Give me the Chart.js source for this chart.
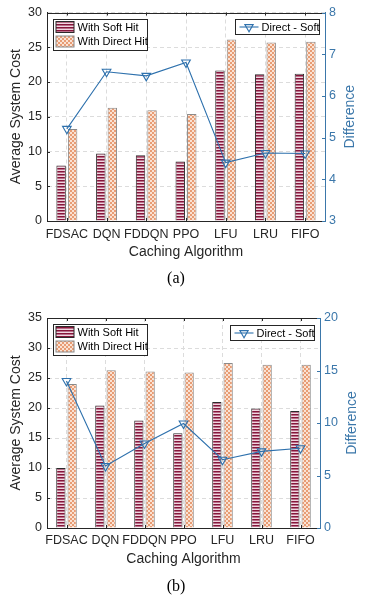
<!DOCTYPE html>
<html>
<head>
<meta charset="utf-8">
<script src="https://cdn.jsdelivr.net/npm/chart.js@4.4.1/dist/chart.umd.min.js"></script>
<style>
body { margin: 0; background: #fff; width: 367px; height: 597px; position: relative; overflow: hidden; }
canvas { position: absolute; left: 0; }
.cap { position: absolute; left: 0; width: 352px; text-align: center; font-family: "Liberation Serif", serif; font-size: 16px; font-weight: normal; line-height: 18px; color: #000; }
</style>
</head>
<body>
<canvas id="chartA" width="367" height="270" style="top:0px"></canvas>
<div class="cap" style="top:269px">(a)</div>
<canvas id="chartB" width="367" height="278" style="top:300px"></canvas>
<div class="cap" style="top:577px">(b)</div>
<script>
// Categories and series names
var algorithms = ['FDSAC', 'DQN', 'FDDQN', 'PPO', 'LFU', 'LRU', 'FIFO'];
var seriesNames = ['With Soft Hit', 'With Direct Hit', 'Direct - Soft'];

// (a)
var softA = [8.0, 9.7, 9.45, 8.55, 21.65, 21.1, 21.2];
var directA = [13.25, 16.3, 15.95, 15.4, 26.1, 25.7, 25.8];
var diffA = [5.21, 6.58, 6.48, 6.8, 4.4, 4.63, 4.62];
var leftTicksA = [0, 5, 10, 15, 20, 25, 30];
var rightTicksA = [3, 4, 5, 6, 7, 8];

// (b)
var softB = [10.0, 20.4, 17.9, 15.8, 21.0, 19.9, 19.5];
var directB = [24.0, 26.3, 26.1, 25.9, 27.5, 27.2, 27.2];
var diffB = [14.0, 5.9, 8.05, 9.95, 6.5, 7.3, 7.6];
var leftTicksB = [0, 5, 10, 15, 20, 25, 30, 35];
var rightTicksB = [0, 5, 10, 15, 20];

var FONT = '"Liberation Sans", Arial, sans-serif';
var TEXT = '#262626';
var BLUE_AXIS = '#3b77aa';
var BLUE_LINE = '#2e71ad';

// bar fill patterns
function stripePattern() {
	var c = document.createElement('canvas');
	c.width = 4; c.height = 3;
	var g = c.getContext('2d');
	g.fillStyle = '#f0d6e0';
	g.fillRect(0, 0, 4, 3);
	g.fillStyle = '#86163a';
	g.fillRect(0, 0, 4, 1);
	g.fillStyle = '#b86f8a';
	g.fillRect(0, 1, 4, 1);
	return g.createPattern(c, 'repeat');
}

function checkPattern() {
	var c = document.createElement('canvas');
	c.width = 4; c.height = 4;
	var g = c.getContext('2d');
	g.fillStyle = '#fae2d3';
	g.fillRect(0, 0, 4, 4);
	g.fillStyle = '#e89c74';
	g.fillRect(0, 0, 2, 2);
	g.fillRect(2, 2, 2, 2);
	return g.createPattern(c, 'repeat');
}

function downTriangle(ctx, x, y, r) {
	ctx.beginPath();
	ctx.moveTo(x, y + r);
	ctx.lineTo(x - r * 0.866, y - r / 2);
	ctx.lineTo(x + r * 0.866, y - r / 2);
	ctx.closePath();
	ctx.stroke();
}

// box on top, inward ticks, right title and the two legends
var frameAndLegends = {
	id: 'frameAndLegends',
	afterDraw: function(chart, args, opts) {
		var ctx = chart.ctx, ca = chart.chartArea;
		var sx = chart.scales.x, sy = chart.scales.y, sy1 = chart.scales.y1;
		var ds = chart.data.datasets;
		ctx.save();
		ctx.lineWidth = 1;
		ctx.strokeStyle = TEXT;
		ctx.beginPath();
		var top = Math.round(ca.top) + 0.5;
		ctx.moveTo(ca.left, top);
		ctx.lineTo(ca.right, top);
		sx.ticks.forEach(function(t, i) {
			var px = Math.round(sx.getPixelForTick(i)) + 0.5;
			ctx.moveTo(px, ca.bottom);
			ctx.lineTo(px, ca.bottom - 3);
			ctx.moveTo(px, ca.top);
			ctx.lineTo(px, ca.top + 3);
		});
		sy.ticks.forEach(function(t, i) {
			var py = Math.round(sy.getPixelForTick(i)) + 0.5;
			ctx.moveTo(ca.left, py);
			ctx.lineTo(ca.left + 3, py);
		});
		ctx.stroke();
		ctx.strokeStyle = BLUE_AXIS;
		ctx.beginPath();
		sy1.ticks.forEach(function(t, i) {
			var py = Math.round(sy1.getPixelForTick(i)) + 0.5;
			ctx.moveTo(ca.right, py);
			ctx.lineTo(ca.right - 3, py);
		});
		ctx.stroke();

		// right axis title, reading bottom to top
		ctx.save();
		ctx.translate(opts.rTitleX, (ca.top + ca.bottom) / 2);
		ctx.rotate(-Math.PI / 2);
		ctx.font = '14px ' + FONT;
		ctx.fillStyle = BLUE_AXIS;
		ctx.textAlign = 'center';
		ctx.textBaseline = 'middle';
		ctx.fillText(opts.rTitle, 0, 0);
		ctx.restore();

		// bar legend, top left
		var bx = Math.round(ca.left + 6) + 0.5, by = Math.round(ca.top + 6) + 0.5;
		var bw = 94, bh = 31;
		ctx.fillStyle = '#fff';
		ctx.fillRect(bx, by, bw, bh);
		ctx.strokeStyle = TEXT;
		ctx.strokeRect(bx, by, bw, bh);
		ctx.font = '11px ' + FONT;
		ctx.textBaseline = 'middle';
		ctx.textAlign = 'left';
		for (var i = 0; i < 2; i++) {
			var sy0 = by + 2 + i * 14.5;
			ctx.fillStyle = ds[i].backgroundColor;
			ctx.fillRect(bx + 2.5, sy0, 18, 11);
			ctx.strokeStyle = ds[i].borderColor;
			ctx.strokeRect(bx + 2.5, sy0, 18, 11);
			ctx.fillStyle = '#000';
			ctx.fillText(ds[i].label, bx + 24, sy0 + 6);
		}

		// line legend, top right
		var lw = 84, lh = 15;
		var lx = Math.round(ca.right - 6 - lw) + 0.5, ly = Math.round(ca.top + 6.5) + 0.5;
		ctx.fillStyle = '#fff';
		ctx.fillRect(lx, ly, lw, lh);
		ctx.strokeStyle = TEXT;
		ctx.strokeRect(lx, ly, lw, lh);
		var cy = ly + lh / 2;
		ctx.strokeStyle = ds[2].borderColor;
		ctx.lineWidth = 1.1;
		ctx.beginPath();
		ctx.moveTo(lx + 4, cy);
		ctx.lineTo(lx + 23, cy);
		ctx.stroke();
		downTriangle(ctx, lx + 13.5, cy, 4.8);
		ctx.fillStyle = '#000';
		ctx.fillText(ds[2].label, lx + 26, cy + 0.5);
		ctx.restore();
	}
};

function makeChart(id, soft, direct, diff, leftTicks, rightTicks, dims) {
	var ctx = document.getElementById(id).getContext('2d');
	return new Chart(ctx, {
		type: 'bar',
		data: {
			labels: algorithms,
			datasets: [{
				label: seriesNames[0],
				data: soft,
				yAxisID: 'y',
				backgroundColor: stripePattern(),
				borderColor: '#2b2b2b',
				borderWidth: 1,
				borderSkipped: 'start',
				order: 1
			}, {
				label: seriesNames[1],
				data: direct,
				yAxisID: 'y',
				backgroundColor: checkPattern(),
				borderColor: '#8a8a8a',
				borderWidth: 1,
				borderSkipped: 'start',
				order: 1
			}, {
				type: 'line',
				label: seriesNames[2],
				data: diff,
				yAxisID: 'y1',
				borderColor: BLUE_LINE,
				borderWidth: 1.1,
				pointStyle: 'triangle',
				pointRotation: 180,
				pointRadius: 5,
				pointBorderWidth: 1.1,
				pointBorderColor: BLUE_LINE,
				pointBackgroundColor: 'rgba(0,0,0,0)',
				fill: false,
				tension: 0,
				order: 0
			}]
		},
		options: {
			responsive: false,
			animation: false,
			categoryPercentage: 0.58,
			barPercentage: 0.82,
			layout: { padding: { top: dims.top, left: 0, right: 0, bottom: 0 } },
			plugins: {
				legend: { display: false },
				tooltip: { enabled: false },
				frameAndLegends: { rTitle: 'Difference', rTitleX: dims.rTitleX }
			},
			scales: {
				x: {
					offset: true,
					grid: { offset: false, color: '#dcdcdc', drawTicks: false },
					border: { color: TEXT, dash: [4, 3] },
					ticks: { color: TEXT, font: { family: FONT, size: 12.5 }, padding: dims.xTickPad, autoSkip: false, maxRotation: 0, minRotation: 0 },
					title: { display: true, text: 'Caching Algorithm', color: TEXT, font: { family: FONT, size: 14 }, padding: { top: 0, bottom: dims.xTitlePad } },
					afterFit: function(s) { s.height = dims.bottom; }
				},
				y: {
					position: 'left',
					min: leftTicks[0],
					max: leftTicks[leftTicks.length - 1],
					ticks: { stepSize: leftTicks[1] - leftTicks[0], color: TEXT, font: { family: FONT, size: 12.5 }, padding: 5 },
					grid: { color: '#dcdcdc', drawTicks: false },
					border: { color: TEXT, dash: [4, 3] },
					title: { display: true, text: 'Average System Cost', color: TEXT, font: { family: FONT, size: 14 }, padding: { top: 8, bottom: 0 } },
					afterFit: function(s) { s.width = dims.left; }
				},
				y1: {
					position: 'right',
					min: rightTicks[0],
					max: rightTicks[rightTicks.length - 1],
					ticks: { stepSize: rightTicks[1] - rightTicks[0], color: BLUE_AXIS, font: { family: FONT, size: 12.5 }, padding: 4 },
					grid: { drawOnChartArea: false, drawTicks: false },
					border: { color: BLUE_AXIS },
					title: { display: false },
					afterFit: function(s) { s.width = dims.right; }
				}
			}
		},
		plugins: [frameAndLegends]
	});
}

makeChart('chartA', softA, directA, diffA, leftTicksA, rightTicksA,
	{ top: 12, bottom: 49, left: 47, right: 42, xTickPad: 6, xTitlePad: 9, rTitleX: 350 });
makeChart('chartB', softB, directB, diffB, leftTicksB, rightTicksB,
	{ top: 18, bottom: 50, left: 47, right: 47, xTickPad: 5, xTitlePad: 10, rTitleX: 352 });
</script>
</body>
</html>
